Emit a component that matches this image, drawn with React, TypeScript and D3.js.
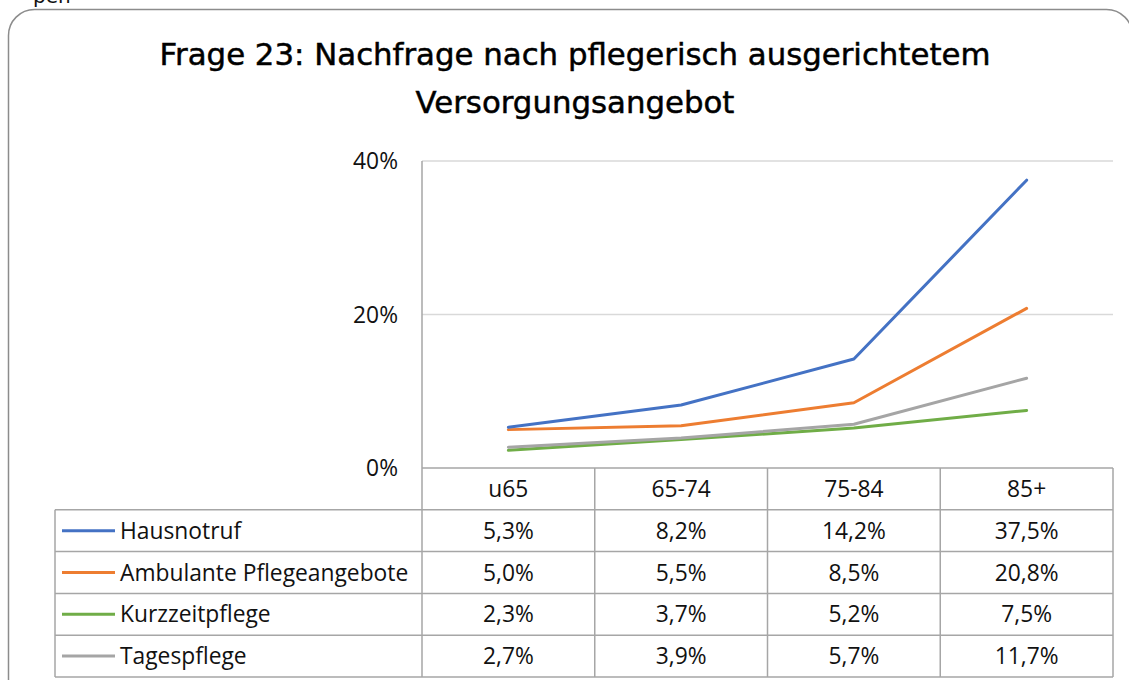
import React from 'react';
import * as d3 from 'd3';

const categories = ['u65', '65-74', '75-84', '85+'];
const seriesNames = ['Hausnotruf', 'Ambulante Pflegeangebote', 'Kurzzeitpflege', 'Tagespflege'];
const hausnotruf = [5.3, 8.2, 14.2, 37.5];
const ambulante = [5.0, 5.5, 8.5, 20.8];
const kurzzeit = [2.3, 3.7, 5.2, 7.5];
const tages = [2.7, 3.9, 5.7, 11.7];
const yTicks = [0, 20, 40];
const colors = ['#4472C4', '#ED7D31', '#70AD47', '#A5A5A5'];

const seriesValues = [hausnotruf, ambulante, kurzzeit, tages];

const W = 1129;
const H = 680;
const plot = { left: 422, right: 1113, top: 161, bottom: 468 };
const tableLeft = 55;
const rowH = 41.8;
const font = '"Open Sans", Lato, sans-serif';
const fs = 22.8;

const fmt = (v: number) => v.toFixed(1).replace('.', ',') + '%';

export default function App() {
  const x = d3.scaleBand().domain(categories).range([plot.left, plot.right]);
  const y = d3.scaleLinear().domain([0, 40]).range([plot.bottom, plot.top]);
  const line = d3
    .line<number>()
    .x((_, i) => (x(categories[i]) as number) + x.bandwidth() / 2)
    .y((d) => y(d));

  const headerTop = plot.bottom;
  const rowTop = (i: number) => headerTop + rowH * (i + 1);
  const tableBottom = rowTop(seriesNames.length);
  const border = '#a6a6a6';

  return (
    <svg width={W} height={H} style={{ position: 'absolute', left: 0, top: 0, background: '#fff' }}>
      <text x={33} y={3} fontFamily='"DejaVu Sans", sans-serif' fontSize={20} fill="#111">pen</text>
      <rect x={8.5} y={9.5} width={1124} height={720} rx={26} fill="none" stroke="#8c8c8c" strokeWidth={1.5} />

      <g fontFamily='"DejaVu Sans", Verdana, sans-serif' fontSize={30.8} fill="#000" stroke="#000" strokeWidth={0.5} textAnchor="middle">
        <text x={575} y={65}>Frage 23: Nachfrage nach pflegerisch ausgerichtetem</text>
        <text x={575} y={113}>Versorgungsangebot</text>
      </g>

      {/* gridlines */}
      {yTicks.map((t) => (
        <g key={t}>
          <line x1={plot.left} x2={plot.right} y1={y(t)} y2={y(t)} stroke={t === 0 ? border : '#d9d9d9'} strokeWidth={1.3} />
          <text x={398} y={y(t) + 8} textAnchor="end" fontFamily={font} fontSize={fs} fill="#111">{t}%</text>
        </g>
      ))}

      {/* table */}
      <g stroke={border} strokeWidth={1.5} fill="none">
        <line x1={plot.left} x2={plot.left} y1={plot.top} y2={tableBottom} />
        {categories.map((c) => (
          <line key={c} x1={(x(c) as number) + x.bandwidth()} x2={(x(c) as number) + x.bandwidth()} y1={headerTop} y2={tableBottom} />
        ))}
        {seriesNames.map((s, i) => (
          <line key={s} x1={tableLeft} x2={plot.right} y1={rowTop(i)} y2={rowTop(i)} />
        ))}
        <line x1={tableLeft} x2={plot.right} y1={tableBottom} y2={tableBottom} />
        <line x1={tableLeft} x2={tableLeft} y1={rowTop(0)} y2={tableBottom} />
      </g>

      <g fontFamily={font} fontSize={fs} fill="#111" textAnchor="middle">
        {categories.map((c) => (
          <text key={c} x={(x(c) as number) + x.bandwidth() / 2} y={headerTop + rowH / 2 + 8}>{c}</text>
        ))}
        {seriesValues.map((vals, si) =>
          vals.map((v, i) => (
            <text key={si + '-' + i} x={(x(categories[i]) as number) + x.bandwidth() / 2} y={rowTop(si) + rowH / 2 + 8}>{fmt(v)}</text>
          ))
        )}
      </g>

      {seriesNames.map((s, si) => (
        <g key={s}>
          <line x1={62} x2={115} y1={rowTop(si) + rowH / 2} y2={rowTop(si) + rowH / 2} stroke={colors[si]} strokeWidth={3} />
          <text x={120} y={rowTop(si) + rowH / 2 + 8} fontFamily={font} fontSize={fs} fill="#111">{s}</text>
        </g>
      ))}

      {/* Kurzzeit & Tages first so the upper lines sit on top */}
      {[2, 3, 1, 0].map((si) => (
        <path key={si} d={line(seriesValues[si]) as string} fill="none" stroke={colors[si]} strokeWidth={3} strokeLinejoin="round" strokeLinecap="round" />
      ))}
    </svg>
  );
}
